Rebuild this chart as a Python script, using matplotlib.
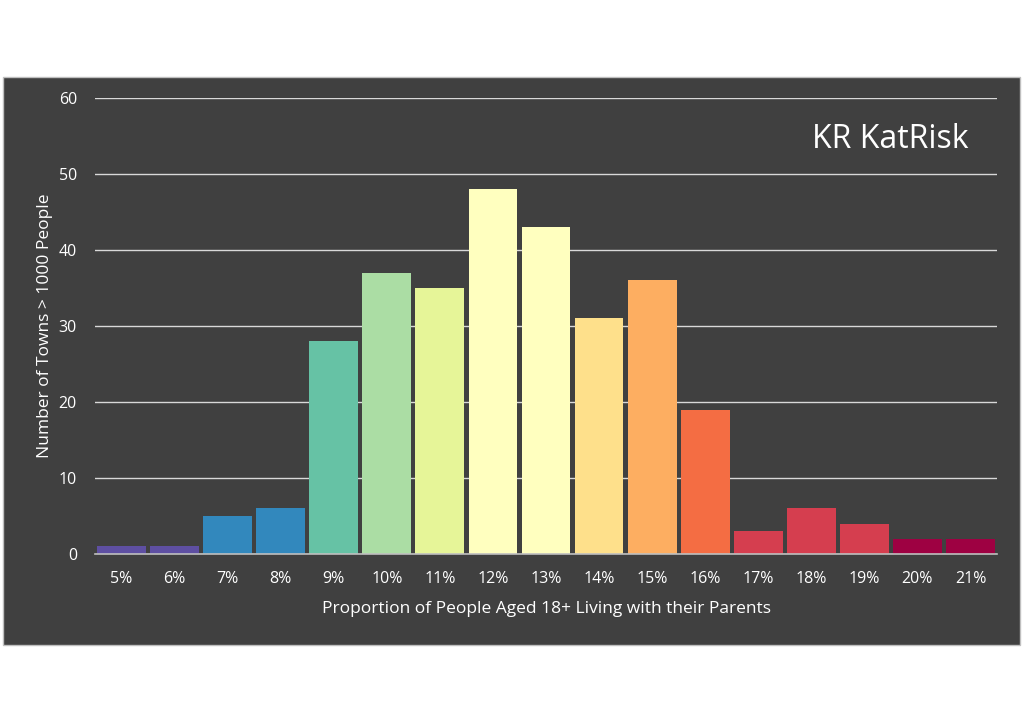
import matplotlib
matplotlib.use("Agg")
import matplotlib.pyplot as plt
from matplotlib.patches import Rectangle

categories = ["5%", "6%", "7%", "8%", "9%", "10%", "11%", "12%", "13%", "14%",
              "15%", "16%", "17%", "18%", "19%", "20%", "21%"]
counts = [1, 1, 5, 6, 28, 37, 35, 48, 43, 31, 36, 19, 3, 6, 4, 2, 2]
bar_colors = ["#5e4fa2", "#5e4fa2", "#3288bd", "#3288bd", "#66c2a5", "#abdda4",
              "#e6f598", "#ffffbf", "#ffffbf", "#fee08b", "#fdae61", "#f46d43",
              "#d53e4f", "#d53e4f", "#d53e4f", "#9e0142", "#9e0142"]
y_ticks = [0, 10, 20, 30, 40, 50, 60]

plt.rcParams['font.family'] = ['Open Sans', 'DejaVu Sans']

W, H = 1024, 724
fig = plt.figure(figsize=(W / 100, H / 100), dpi=100)
fig.patch.set_facecolor("white")

bg = "#404040"
fig.patches.append(Rectangle((3 / W, 1 - 645 / H), (1020 - 3) / W, (645 - 77) / H,
                             transform=fig.transFigure, facecolor=bg,
                             edgecolor="#bfbfbf", linewidth=1, zorder=-10))

ax = fig.add_axes([95 / W, 1 - 554 / H, (997 - 95) / W, (554 - 98) / H])
ax.set_facecolor(bg)
ax.patch.set_alpha(0)

x = range(len(categories))
ax.bar(x, counts, width=0.92, color=bar_colors, zorder=3)

ax.set_xlim(-0.5, len(categories) - 0.5)
ax.set_ylim(0, 60)
ax.set_yticks(y_ticks)
ax.set_xticks(list(x))
ax.set_xticklabels(categories)
ax.grid(axis="y", color="#d9d9d9", linewidth=1, zorder=1)
ax.set_axisbelow(True)

for s in ["top", "right", "left"]:
    ax.spines[s].set_visible(False)
ax.spines["bottom"].set_color("#bfbfbf")
ax.spines["bottom"].set_linewidth(1.2)
ax.spines["bottom"].set_zorder(4)

ax.tick_params(axis="both", length=0, colors="white", labelsize=11.5)
ax.tick_params(axis="y", pad=13)
ax.tick_params(axis="x", pad=12.5)

ax.set_xlabel("Proportion of People Aged 18+ Living with their Parents",
              color="white", fontsize=12.5, labelpad=10)
ax.set_ylabel("Number of Towns > 1000 People", color="white", fontsize=12.5,
              labelpad=4)

fig.text(890 / W, 1 - 139 / H, "KR KatRisk", color="white", fontsize=23,
         ha="center", va="center", fontweight="medium")

fig.savefig("out.png", dpi=100, facecolor=fig.get_facecolor())
